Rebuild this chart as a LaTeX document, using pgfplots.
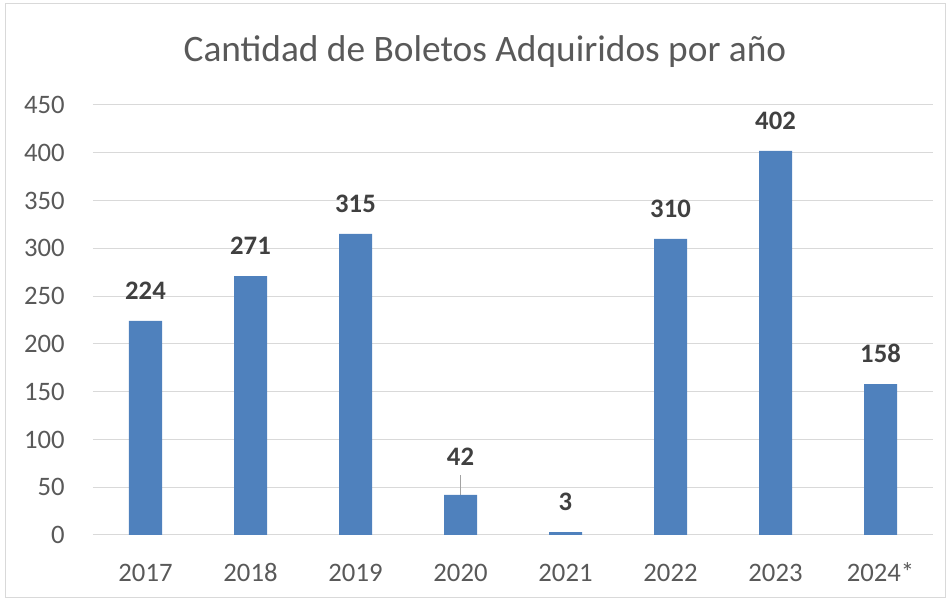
\documentclass[border=0pt]{standalone}
\usepackage{pgfplots}
\pgfplotsset{compat=1.18}
\usepackage{fontspec}
\setmainfont{Carlito}
\definecolor{barblue}{HTML}{4F81BD}
\definecolor{txtgray}{HTML}{595959}
\definecolor{lblgray}{HTML}{404040}
\definecolor{gridgray}{HTML}{D9D9D9}
\pgfplotstableread{
x y off
0 224 15.75
1 271 15.75
2 315 15.75
3 42 22
4 3 15.75
5 310 15.75
6 402 15.75
7 158 15.75
}\datatable
\begin{document}
\begin{tikzpicture}[x=1pt,y=1pt]
\useasboundingbox (0,0) rectangle (711,451.5);
\draw[color=gridgray, line width=0.75pt] (3.75,3) rectangle (708.75,448.5);
\node[font=\fontsize{28}{32}\selectfont, text=txtgray] at (363.75,413) {Cantidad de Boletos Adquiridos por año};
\begin{axis}[
  at={(69.75pt,50.25pt)}, anchor=south west,
  width=630pt, height=322.5pt, scale only axis,
  xmin=-0.5, xmax=7.5, ymin=0, ymax=450,
  /pgf/number format/assume math mode=true,
  ytick={0,50,...,450},
  xtick={0,...,7},
  xticklabels={2017,2018,2019,2020,2021,2022,2023,2024*},
  axis line style={draw=none},
  major tick length=0pt,
  ymajorgrids, grid style={gridgray, line width=0.75pt},
  ticklabel style={font=\fontsize{20}{24}\selectfont, text=txtgray, inner sep=0pt},
  yticklabel style={anchor=east, xshift=-21pt},
  xticklabel style={anchor=base, yshift=-34.8pt},
  clip=false,
]
\addplot[forget plot, draw=none, mark=none,
  error bars/.cd, y dir=plus, y explicit, error mark=none,
  error bar style={gridgray!40!gray, line width=0.75pt}]
  coordinates {(3,42) +- (0,21)};
\addplot[ybar, bar width=24.75pt, fill=barblue, draw=none,
  visualization depends on={\thisrow{off} \as \off},
  nodes near coords,
  every node near coord/.append style={font=\bfseries\fontsize{20}{24}\selectfont, text=lblgray, anchor=south, inner sep=0pt, yshift=\off pt}]
  table[x=x, y=y] {\datatable};
\end{axis}
\end{tikzpicture}
\end{document}
